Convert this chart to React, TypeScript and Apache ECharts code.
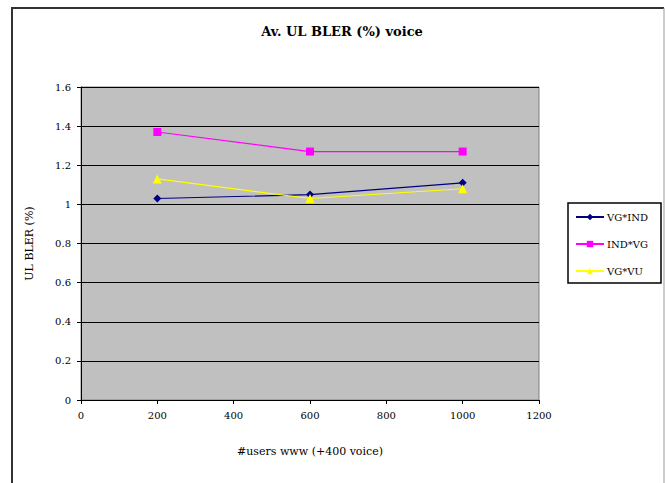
import React, { useEffect, useRef } from "react";
import * as echarts from "echarts";

const xValues = [200, 600, 1000];
const vgInd = [1.03, 1.05, 1.11];
const indVg = [1.37, 1.27, 1.27];
const vgVu = [1.13, 1.03, 1.08];
const seriesNames = ["VG*IND", "IND*VG", "VG*VU"];

const FONT = "'DejaVu Serif', 'Liberation Serif', serif";

export default function App() {
  const ref = useRef<HTMLDivElement>(null);
  useEffect(() => {
    const chart = echarts.init(ref.current!, null, { renderer: "svg" });
    const mk = (vals: number[]) => xValues.map((x, i) => [x, vals[i]]);
    chart.setOption({
      animation: false,
      backgroundColor: "#ffffff",
      title: {
        text: "Av. UL BLER (%) voice",
        left: 337,
        top: 20,
        textAlign: "center",
        textStyle: { fontFamily: FONT, fontSize: 13, fontWeight: "bold", color: "#000" },
      },
      grid: {
        left: 81,
        right: 126,
        top: 87,
        bottom: 83,
        show: true,
        backgroundColor: "#c0c0c0",
        borderColor: "#808080",
        borderWidth: 1,
      },
      xAxis: {
        type: "value",
        min: 0,
        max: 1200,
        interval: 200,
        name: "#users www (+400 voice)",
        nameLocation: "middle",
        nameGap: 46,
        nameTextStyle: { fontFamily: FONT, fontSize: 11, color: "#000" },
        axisLine: { show: true, lineStyle: { color: "#000", width: 1 } },
        axisTick: { show: true, inside: false, length: 4, lineStyle: { color: "#000" } },
        axisLabel: {
          fontFamily: FONT,
          fontSize: 10,
          color: "#000",
          margin: 10,
          formatter: (v: number) => String(v),
        },
        splitLine: { show: false },
      },
      yAxis: {
        type: "value",
        min: 0,
        max: 1.6,
        interval: 0.2,
        name: "UL BLER (%)",
        nameLocation: "middle",
        nameGap: 46,
        nameRotate: 90,
        nameTextStyle: { fontFamily: FONT, fontSize: 11, color: "#000" },
        axisLine: { show: true, lineStyle: { color: "#000", width: 1 } },
        axisTick: { show: true, length: 4, lineStyle: { color: "#000" } },
        axisLabel: {
          fontFamily: FONT,
          fontSize: 10,
          color: "#000",
          margin: 10,
          formatter: (v: number) => String(Math.round(v * 10) / 10),
        },
        splitLine: { show: true, lineStyle: { color: "#000", width: 1 } },
      },
      legend: {
        orient: "vertical",
        left: 570,
        top: 207,
        itemGap: 17,
        itemWidth: 28,
        itemHeight: 8,
        data: seriesNames,
        textStyle: { fontFamily: FONT, fontSize: 10, color: "#000", padding: [0, 0, 0, -2] },
      },
      graphic: [
        {
          type: "rect",
          shape: { x: 568, y: 203, width: 93, height: 80 },
          style: { fill: "none", stroke: "#000", lineWidth: 1.5 },
        },
        {
          type: "polyline",
          shape: { points: [[12, 483], [12, 8], [664, 8]] },
          style: { fill: "none", stroke: "#333", lineWidth: 2 },
        },
        {
          type: "line",
          shape: { x1: 664, y1: 8, x2: 664, y2: 483 },
          style: { stroke: "#999", lineWidth: 1 },
        },
      ],
      series: [
        {
          name: seriesNames[0],
          type: "line",
          data: mk(vgInd),
          symbol: "diamond",
          symbolSize: 8,
          color: "#000080",
          lineStyle: { width: 1.2, color: "#000080" },
          itemStyle: { color: "#000080" },
        },
        {
          name: seriesNames[1],
          type: "line",
          data: mk(indVg),
          symbol: "rect",
          symbolSize: 8,
          color: "#ff00ff",
          lineStyle: { width: 1.2, color: "#ff00ff" },
          itemStyle: { color: "#ff00ff" },
        },
        {
          name: seriesNames[2],
          type: "line",
          data: mk(vgVu),
          symbol: "triangle",
          symbolSize: 9,
          color: "#ffff00",
          lineStyle: { width: 1.2, color: "#ffff00" },
          itemStyle: { color: "#ffff00" },
        },
      ],
    });
    return () => chart.dispose();
  }, []);
  return <div ref={ref} style={{ width: 665, height: 483, position: "absolute", left: 0, top: 0 }} />;
}
